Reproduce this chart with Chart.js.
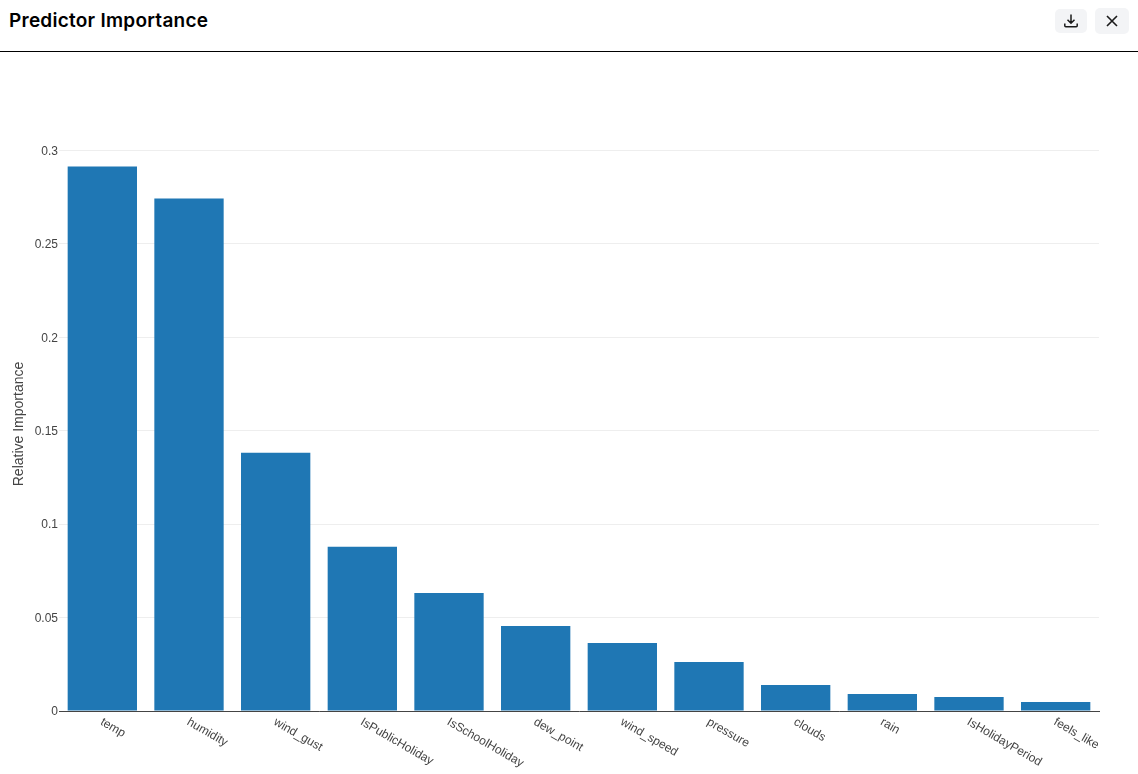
<!DOCTYPE html>
<html>
<head>
<meta charset="utf-8">
<title>Predictor Importance</title>
<script src="https://cdn.jsdelivr.net/npm/chart.js@4"></script>
<style>
  html, body { margin: 0; padding: 0; background: #fff; overflow: hidden; }
  #header { position: absolute; left: 0; top: 0; width: 1138px; height: 51px; border-bottom: 1px solid #000; }
  #title { position: absolute; left: 9px; top: 9px; font: 600 19px/24px Inter, sans-serif; letter-spacing: 0.25px; color: #000; }
  .btn { position: absolute; background: #f3f4f6; border-radius: 5px; display: flex; align-items: center; justify-content: center; }
  #btn-download { left: 1055px; top: 9px; width: 32px; height: 24px; }
  #btn-close { left: 1095px; top: 8px; width: 34px; height: 26px; }
  #wrap { position: absolute; left: 0; top: 52px; width: 1138px; height: 722px; }
</style>
</head>
<body>
<div id="header">
  <div id="title">Predictor Importance</div>
  <div class="btn" id="btn-download">
    <svg width="16" height="16" viewBox="0 0 16 16" fill="none" stroke="#1a1a1a" stroke-width="1.5"><path d="M8 1.5v8.5M4.5 6.8 8 10.2l3.500-3.400M1.800 10.500v2.300q0 1 1 1h10.400q1 0 1-1v-2.300"/></svg>
  </div>
  <div class="btn" id="btn-close">
    <svg width="14" height="14" viewBox="0 0 14 14" fill="none" stroke="#1a1a1a" stroke-width="1.6"><path d="M2 2l10 10M12 2 2 12"/></svg>
  </div>
</div>
<div id="wrap"><canvas id="grafico" width="1138" height="722"></canvas></div>
<script>
const categories = ["temp", "humidity", "wind_gust", "IsPublicHoliday", "IsSchoolHoliday", "dew_point", "wind_speed", "pressure", "clouds", "rain", "IsHolidayPeriod", "feels_like"];
const importance = [0.2914, 0.2743, 0.1382, 0.0879, 0.0632, 0.0455, 0.0364, 0.0262, 0.0139, 0.0091, 0.0075, 0.0048];
const yTickLabels = ["0", "0.05", "0.1", "0.15", "0.2", "0.25", "0.3"];
const yAxisTitle = "Relative Importance";

// scale titles can only sit centred on the axis, this one is a bit above it
const yTitlePlugin = {
  id: "yTitle",
  afterDraw(chart) {
    const ctx = chart.ctx;
    ctx.save();
    ctx.translate(19, 372);
    ctx.rotate(-Math.PI / 2);
    ctx.font = "14px 'Liberation Sans'";
    ctx.fillStyle = "#444";
    ctx.textAlign = "center";
    ctx.textBaseline = "middle";
    ctx.fillText(yAxisTitle, 0, 0);
    ctx.restore();
  }
};

new Chart(document.getElementById("grafico").getContext("2d"), {
  type: "bar",
  data: {
    labels: categories,
    datasets: [{
      label: yAxisTitle,
      data: importance,
      backgroundColor: "#1f77b4",
      barPercentage: 0.8,
      categoryPercentage: 1
    }]
  },
  plugins: [yTitlePlugin],
  options: {
    responsive: false,
    animation: false,
    devicePixelRatio: 1,
    layout: { padding: { top: 98.5, right: 39, left: 0, bottom: 0 } },
    plugins: { legend: { display: false }, tooltip: { enabled: false } },
    scales: {
      x: {
        grid: { display: false },
        border: { color: "#444", width: 1 },
        ticks: {
          autoSkip: false,
          minRotation: -30,
          maxRotation: -30,
          padding: -4,
          labelOffset: -1,
          color: "#444",
          font: { family: "'Liberation Sans'", size: 12 }
        },
        // labels hang to the right of the tick, chart.js only does that for the other way round
        afterFit: (scale) => {
          scale.height = 63;
          scale._getXAxisLabelAlignment = () => "left";
        }
      },
      y: {
        min: 0,
        max: 0.3,
        grid: { color: "#eeeeee", drawTicks: false },
        border: { display: false },
        ticks: {
          stepSize: 0.05,
          padding: 1,
          labelOffset: 1,
          color: "#444",
          font: { family: "'Liberation Sans'", size: 12 },
          callback: (value, i) => yTickLabels[i]
        },
        afterFit: (scale) => { scale.width = 59; }
      }
    }
  }
});
</script>
</body>
</html>
